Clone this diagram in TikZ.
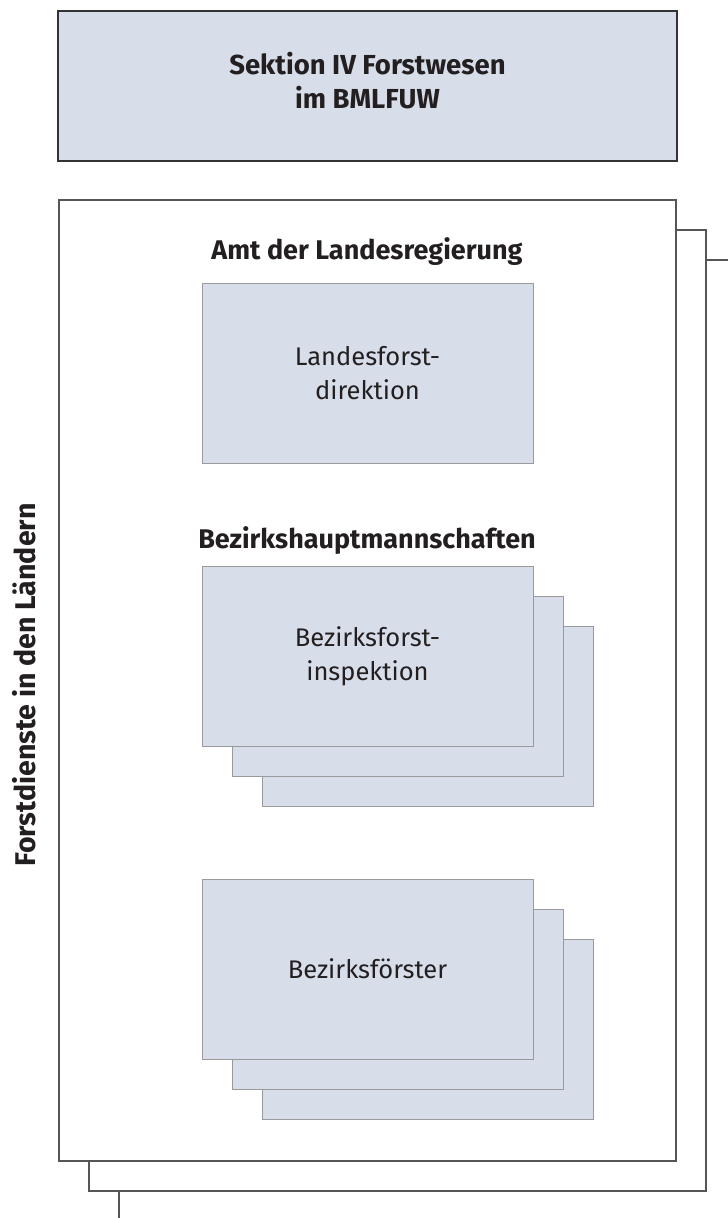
\documentclass[tikz,border=0pt]{standalone}
\usepackage{fontspec}
\setmainfont{Fira Sans}
\definecolor{boxfill}{HTML}{D8DDEA}
\definecolor{boxline}{HTML}{9A9A9C}
\definecolor{frameline}{HTML}{555555}
\definecolor{topline}{HTML}{333333}
\definecolor{textdark}{HTML}{231F20}
\begin{document}
\begin{tikzpicture}[x=1pt,y=-1pt,
  framebox/.style={draw=frameline, line width=1.4pt, fill=white, anchor=north west,
    minimum width=617pt, minimum height=961pt, inner sep=0pt, outer sep=0pt},
  unitbox/.style={draw=boxline, line width=1pt, fill=boxfill, anchor=north west,
    minimum width=331pt, minimum height=180pt, inner sep=0pt, outer sep=0pt,
    align=center, text=textdark, font=\fontsize{25.5}{34}\selectfont},
  topbox/.style={draw=topline, line width=1.2pt, fill=boxfill, anchor=north west,
    minimum width=619pt, minimum height=150pt, inner sep=0pt, outer sep=0pt},
  toptext/.style={align=center, inner sep=0pt, text=textdark, font=\bfseries\fontsize{27.5}{34}\selectfont},
  headtext/.style={anchor=base, inner sep=0pt, text=textdark, font=\bfseries\fontsize{27}{34}\selectfont}]
\useasboundingbox (0,0) rectangle (728,1218);
\clip (0,0) rectangle (728,1218);
% stacked frames
\node[framebox] (f3) at (119,260) {};
\node[framebox] (f2) at (89,230) {};
\node[framebox] (f1) at (59,200) {};
% top box
\node[topbox] (top) at (58,11) {};
\node[toptext] (toplabel) at ([yshift=5pt]top.center) {Sektion IV Forstwesen\\im BMLFUW};
% side label
\node[rotate=90, anchor=base, inner sep=0pt, text=textdark, font=\bfseries\fontsize{28.5}{34}\selectfont] (side) at (35,685) {Forstdienste in den Ländern};
% Amt der Landesregierung
\node[headtext] (amt) at (367,259) {Amt der Landesregierung};
\node[unitbox] (lfd) at (202,283) {Landesforst-\\direktion};
% Bezirkshauptmannschaften
\node[headtext] (bh) at (367,548) {Bezirkshauptmannschaften};
\node[unitbox] (bfi3) at (262,626) {};
\node[unitbox] (bfi2) at (232,596) {};
\node[unitbox] (bfi1) at (202,566) {Bezirksforst-\\inspektion};
% Bezirksfoerster
\node[unitbox] (bf3) at (262,939) {};
\node[unitbox] (bf2) at (232,909) {};
\node[unitbox] (bf1) at (202,879) {Bezirksförster};
\end{tikzpicture}
\end{document}
